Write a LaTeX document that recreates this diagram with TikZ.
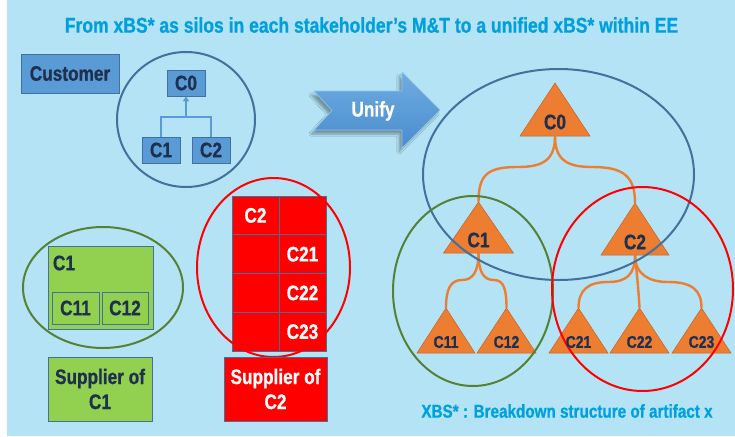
\documentclass[tikz,border=0pt]{standalone}
\usepackage{fontspec}
\setmainfont[FakeStretch=0.82, BoldFeatures={FakeBold=0.8}]{Liberation Sans}
\usetikzlibrary{arrows.meta,shadows.blur,calc}

\definecolor{bgblue}{RGB}{179,227,244}
\definecolor{titleblue}{RGB}{0,160,222}
\definecolor{navy}{RGB}{30,48,80}
\definecolor{midblue}{RGB}{91,155,213}
\definecolor{steel}{RGB}{65,113,156}
\definecolor{leaf}{RGB}{146,208,80}
\definecolor{forest}{RGB}{84,130,53}
\definecolor{brightred}{RGB}{255,0,0}
\definecolor{tangerine}{RGB}{237,125,49}
\definecolor{rust}{RGB}{196,100,40}
\definecolor{arrowtop}{RGB}{110,172,226}
\definecolor{arrowbot}{RGB}{74,140,205}
\definecolor{arrowedge}{RGB}{150,196,238}

\tikzset{
  big/.style={font=\bfseries\fontsize{21}{25}\selectfont},
  small/.style={font=\bfseries\fontsize{17}{19}\selectfont},
  bluebox/.style={draw=steel, line width=0.6pt, fill=midblue, text=navy, big,
    inner sep=0pt, minimum width=38pt, minimum height=26pt},
  greenbox/.style={draw=steel, line width=0.6pt, fill=leaf, text=navy, big,
    inner sep=0pt},
  redcell/.style={draw=steel, line width=0.6pt, fill=brightred, text=white, big,
    inner sep=0pt, minimum width=47pt, minimum height=38.75pt},
  treeline/.style={draw=midblue, line width=2pt},
  oline/.style={draw=tangerine, line width=2.4pt},
  tri/.style={fill=tangerine, draw=rust, line width=0.5pt},
  ring/.style={line width=2pt},
  label/.style={inner sep=0pt, text=navy},
}

\begin{document}
\begin{tikzpicture}[x=1pt,y=-1pt]
\useasboundingbox (0,0) rectangle (735,436);
\fill[white] (0,0) rectangle (735,436);
\fill[bgblue] (7,0) rectangle (735,436);

% heading
\node[font=\bfseries\fontsize{21.4}{24}\selectfont, text=titleblue, inner sep=0pt] (title) at (371.5,25)
  {From xBS* as silos in each stakeholder’s M\&T to a unified xBS* within EE};

% ---- customer's breakdown ----
\node[bluebox, minimum width=98pt, minimum height=39pt] (customer) at (70,73.5) {Customer};
\draw[ring, steel] (186,119.5) ellipse [x radius=69pt, y radius=67.5pt];
\node[bluebox] (cc0) at (186,83) {C0};
\node[bluebox] (cc1) at (161,150) {C1};
\node[bluebox] (cc2) at (211,150) {C2};
\coordinate (cj) at (186,117);
\draw[treeline] (cc1.north) |- (cj) -| (cc2.north);
\draw[treeline, -{Triangle[width=6pt,length=5pt]}] (cj) -- (cc0.south);

% ---- supplier of C1 ----
\node[greenbox, minimum width=105pt, minimum height=83pt] (g1) at (100.5,287.5) {};
\node[label, big] (g1t) at (64,263) {C1};
\node[greenbox, minimum width=47pt, minimum height=32pt] (g11) at (75.5,308) {C11};
\node[greenbox, minimum width=46pt, minimum height=32pt] (g12) at (125,308) {C12};
\draw[ring, forest] (103,287.5) ellipse [x radius=80pt, y radius=60.5pt];
\node[greenbox, minimum width=104pt, minimum height=64pt, align=center] (s1) at (100,389)
  {Supplier of\\C1};

% ---- supplier of C2 ----
\foreach \r [count=\i] in {0,1,2,3}{
  \node[redcell] (ra\i) at (255.5,{215.4+38.75*\r}) {};
  \node[redcell] (rb\i) at (302.5,{215.4+38.75*\r}) {};
}
\node[text=white, big, inner sep=0pt] (r2t) at (ra1) {C2};
\node[text=white, big, inner sep=0pt] (r21t) at (rb2) {C21};
\node[text=white, big, inner sep=0pt] (r22t) at (rb3) {C22};
\node[text=white, big, inner sep=0pt] (r23t) at (rb4) {C23};
\draw[ring, brightred] (273.5,267.5) ellipse [x radius=76.5pt, y radius=89.5pt];
\node[draw=steel, line width=0.6pt, fill=brightred, text=white, big, inner sep=0pt,
  minimum width=103pt, minimum height=64pt, align=center] (s2) at (275.5,389)
  {Supplier of\\C2};

% ---- unify arrow ----
\path[blur shadow={shadow xshift=-3pt, shadow yshift=-4pt, shadow opacity=35, shadow blur steps=8},
  top color=arrowtop, bottom color=arrowbot, draw=arrowedge, line width=0.6pt]
  (314,91) -- (402,91) -- (402,72) -- (440,110) -- (402,148) -- (402,130) -- (314,130) -- (332,110.5) -- cycle;
\node[text=white, big, inner sep=0pt] (unify) at (373,111) {Unify};

% ---- unified breakdown ----
% apex / base-centre coordinates of each triangle
\newcommand{\trinode}[5]{% name, apex x, apex y, base y, half width
  \coordinate (#1a) at (#2,#3);
  \coordinate (#1b) at (#2,#4);
  \fill[tri] (#2,#3) -- (#2+#5,#4) -- (#2-#5,#4) -- cycle;
}
\trinode{t0}{555}{83}{136}{35}
\trinode{t1}{478.5}{202}{253}{35}
\trinode{t2}{635}{203}{255}{34}
\trinode{t11}{446}{308}{353}{29}
\trinode{t12}{506.5}{308}{353}{29.5}
\trinode{t21}{578.5}{308}{353}{29.5}
\trinode{t22}{639.5}{308}{353}{29.5}
\trinode{t23}{701.5}{308}{353}{29.5}

\coordinate (j01) at (518,167);
\coordinate (j02) at (592,167);
\coordinate (j111) at (462,280);
\coordinate (j112) at (494,280);
\coordinate (j221) at (608,282);
\coordinate (j223) at (668,282);

\draw[oline] (t0b) .. controls +(0,24) and +(25,0) .. (j01) .. controls +(-30,0) and +(0,-28) .. (t1a);
\draw[oline] (t0b) .. controls +(0,24) and +(-25,0) .. (j02) .. controls +(30,0) and +(0,-28) .. (t2a);
\draw[oline] (t1b) .. controls +(0,20) and +(10,0) .. (j111) .. controls +(-12,0) and +(0,-18) .. (t11a);
\draw[oline] (t1b) .. controls +(0,20) and +(-10,0) .. (j112) .. controls +(10,0) and +(0,-18) .. (t12a);
\draw[oline] (t2b) .. controls +(0,20) and +(18,0) .. (j221) .. controls +(-20,0) and +(0,-18) .. (t21a);
\draw[oline] (t2b) .. controls +(0,20) and +(-18,0) .. (j223) .. controls +(24,0) and +(0,-18) .. (t23a);
\draw[oline] (t2b) .. controls +(2,20) and +(-1,-18) .. (t22a);

\draw[ring, steel] (558.5,174.5) ellipse [x radius=135.5pt, y radius=105.5pt];
\draw[ring, forest] (473,291) ellipse [x radius=80pt, y radius=95pt];
\draw[ring, brightred] (642.5,289) ellipse [x radius=90.5pt, y radius=102pt];

\node[label, big] (l0) at (555,122) {C0};
\node[label, big] (l1) at (478.5,240) {C1};
\node[label, big] (l2) at (635,242) {C2};
\node[label, small] (l11) at (446,342) {C11};
\node[label, small] (l12) at (506.5,342) {C12};
\node[label, small] (l21) at (578.5,342) {C21};
\node[label, small] (l22) at (639.5,342) {C22};
\node[label, small] (l23) at (701.5,342) {C23};

\node[font=\bfseries\fontsize{18.6}{21}\selectfont, text=titleblue, inner sep=0pt] (note) at (567,411)
  {XBS* : Breakdown structure of artifact x};
\end{tikzpicture}
\end{document}
